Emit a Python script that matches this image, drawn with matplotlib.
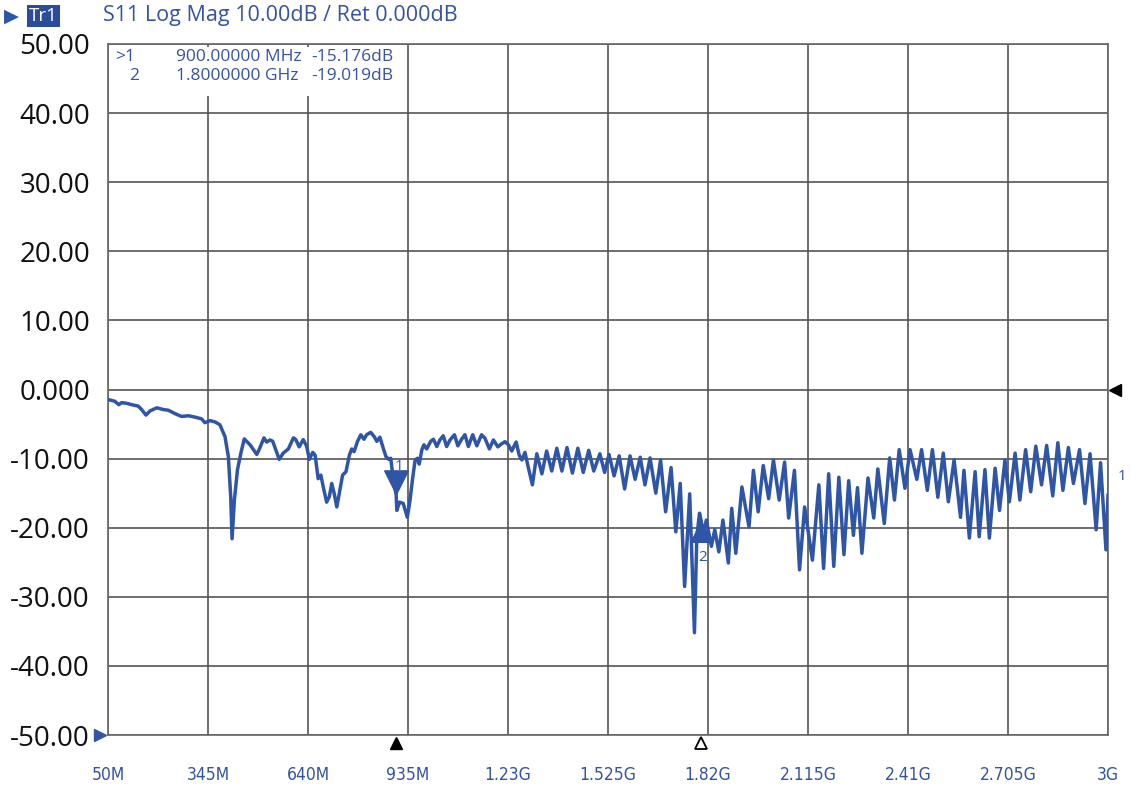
import matplotlib
matplotlib.use("Agg")
import matplotlib.pyplot as plt
from matplotlib.patches import Rectangle

# trace: frequency (MHz) and S11 (dB)
freq_mhz = [
    50, 70, 82, 90, 105, 120, 139, 149, 162, 174, 194, 213, 228, 248, 267, 287,
    307, 326, 336, 351, 366, 380, 395, 405, 412, 416, 423, 432, 442, 452, 469,
    489, 498, 510, 518, 528, 536, 555, 567, 582, 597, 604, 614, 626, 636, 644,
    654, 661, 670, 678, 685, 695, 703, 710, 717, 725, 734, 742, 752, 762, 769,
    776, 786, 796, 805, 813, 825, 835, 843, 852, 862, 870, 878, 884, 892, 900,
    902, 910, 921, 933, 941, 948, 956, 963, 968, 976, 982, 990, 1002, 1010,
    1020, 1029, 1039, 1049, 1059, 1072, 1082, 1093, 1103, 1113, 1126, 1138,
    1152, 1162, 1175, 1187, 1200, 1210, 1221, 1231, 1241, 1254, 1263, 1271,
    1280, 1290, 1302, 1315, 1330, 1344, 1359, 1374, 1389, 1404, 1420, 1436,
    1452, 1468, 1483, 1501, 1515, 1528, 1543, 1558, 1574, 1590, 1605, 1620,
    1634, 1649, 1666, 1680, 1695, 1711, 1725, 1738, 1751, 1766, 1780, 1787,
    1795, 1800, 1805, 1815, 1830, 1840, 1852, 1864, 1880, 1890, 1902, 1920,
    1941, 1954, 1968, 1983, 1999, 2013, 2030, 2046, 2058, 2075, 2090, 2105,
    2128, 2147, 2161, 2176, 2191, 2206, 2221, 2235, 2249, 2261, 2274, 2292,
    2309, 2321, 2340, 2356, 2370, 2384, 2401, 2416, 2436, 2450, 2467, 2482,
    2498, 2514, 2529, 2546, 2565, 2575, 2591, 2608, 2620, 2637, 2650, 2667,
    2680, 2696, 2709, 2726, 2740, 2757, 2772, 2787, 2804, 2819, 2837, 2852,
    2867, 2883, 2898, 2916, 2932, 2947, 2965, 2978, 2994, 3000,
]
s11_db = [
    -1.45, -1.7, -2.2, -1.9, -2.0, -2.2, -2.4, -2.9, -3.7, -3.1, -2.65, -2.9,
    -3.0, -3.5, -3.9, -3.8, -4.0, -4.25, -4.8, -4.5, -4.7, -5.1, -6.8, -9.7,
    -15.5, -21.6, -15.9, -11.6, -9.2, -7.15, -8.0, -9.4, -8.45, -7.0, -7.6,
    -7.3, -7.5, -10.1, -9.2, -8.6, -7.0, -7.25, -8.3, -7.25, -8.2, -10.1, -9.1,
    -9.5, -12.9, -12.4, -14.1, -16.3, -15.5, -13.6, -15.0, -17.0, -14.6, -12.4,
    -11.9, -9.5, -8.6, -9.0, -7.5, -6.55, -7.2, -6.55, -6.2, -6.8, -7.5, -6.9,
    -8.5, -9.7, -10.1, -9.95, -13.1, -15.176, -17.5, -16.3, -16.5, -18.5,
    -16.0, -13.1, -10.2, -9.95, -10.8, -8.7, -8.0, -8.6, -7.5, -7.2, -8.25,
    -7.3, -6.7, -8.25, -7.3, -6.55, -8.15, -7.2, -6.55, -8.25, -6.55, -8.15,
    -6.55, -7.05, -8.6, -7.3, -8.3, -7.9, -7.55, -8.0, -8.9, -7.6, -9.5,
    -10.2, -9.1, -11.3, -13.8, -9.3, -12.2, -8.9, -11.8, -8.5, -11.8, -8.4,
    -12.1, -8.5, -12.0, -8.8, -11.8, -9.3, -12.0, -9.4, -12.5, -9.6, -14.4,
    -9.6, -13.0, -9.8, -13.8, -9.9, -15.0, -10.2, -17.7, -11.3, -20.6, -13.6,
    -28.5, -15.1, -35.2, -21.3, -17.9, -19.019, -21.3, -18.9, -22.7, -20.3,
    -23.5, -18.9, -25.1, -17.2, -23.7, -14.1, -19.9, -11.7, -17.7, -11.0,
    -15.8, -10.2, -16.0, -10.5, -18.6, -11.7, -26.1, -17.0, -24.7, -13.8,
    -25.9, -12.2, -25.6, -12.7, -23.9, -13.2, -21.1, -14.2, -23.7, -12.8,
    -18.6, -11.5, -19.4, -9.9, -16.0, -8.7, -14.3, -8.7, -13.0, -8.7, -14.6,
    -8.7, -15.6, -9.2, -16.25, -10.2, -18.5, -11.7, -21.5, -11.9, -21.3,
    -11.6, -21.5, -11.4, -17.5, -10.2, -16.25, -9.2, -16.0, -8.7, -14.8,
    -8.2, -13.8, -8.1, -15.4, -7.7, -14.6, -8.4, -13.6, -8.7, -16.5, -9.3,
    -20.3, -10.6, -23.2, -15.3,
]

marker_freq = [900, 1800]
marker_db = [-15.176, -19.019]
marker_names = ["1", "2"]
readout_ids = [">1", "2"]
readout_freq = ["900.00000 MHz", "1.8000000 GHz"]
readout_val = ["-15.176dB", "-19.019dB"]

x_ticks = [50, 345, 640, 935, 1230, 1525, 1820, 2115, 2410, 2705, 3000]
x_labels = ["50M", "345M", "640M", "935M", "1.23G", "1.525G", "1.82G",
            "2.115G", "2.41G", "2.705G", "3G"]
y_ticks = [50, 40, 30, 20, 10, 0, -10, -20, -30, -40, -50]
y_labels = ["50.00", "40.00", "30.00", "20.00", "10.00", "0.000", "-10.00",
            "-20.00", "-30.00", "-40.00", "-50.00"]

blue = "#2f55a6"
txt_blue = "#3553a3"
plt.rcParams['font.family'] = ['Open Sans', 'DejaVu Sans']

fig = plt.figure(figsize=(11.31, 7.87), dpi=100)
ax = fig.add_axes([108 / 1131, 1 - 735 / 787, 1000 / 1131, 691 / 787])

ax.plot(freq_mhz, s11_db, color=blue, lw=2.5, zorder=3, solid_joinstyle='round')
ax.set_xlim(50, 3000)
ax.set_ylim(-50, 50)

ax.set_xticks(x_ticks)
ax.set_xticklabels(x_labels, color=txt_blue, fontsize=12.5,
                   family='DejaVu Sans', fontstretch='condensed')
ax.set_yticks(y_ticks)
ax.set_yticklabels(y_labels, fontsize=20, color='#111111')
ax.tick_params(axis='x', length=0, pad=22)
ax.tick_params(axis='y', length=0, pad=13)
ax.grid(True, color='#555555', lw=1.2)
ax.set_axisbelow(True)
for sp in ax.spines.values():
    sp.set_color('#666666')
    sp.set_linewidth(1.2)

# marker readout area (white panel over the grid)
ax.add_patch(Rectangle((0.002, 0.925), 0.29, 0.071, transform=ax.transAxes,
                       facecolor='white', edgecolor='none', zorder=2))
for i in range(2):
    yy = 1 - (57 + 19 * i - 44) / 691
    ax.text(0.007 if i == 0 else 0.021, yy, readout_ids[i], transform=ax.transAxes,
            fontsize=12.5, color=txt_blue, va='center', zorder=4)
    ax.text(0.068, yy, readout_freq[i], transform=ax.transAxes,
            fontsize=12.5, color=txt_blue, va='center', zorder=4)
    ax.text(0.285, yy, readout_val[i], transform=ax.transAxes, ha='right',
            fontsize=12.5, color=txt_blue, va='center', zorder=4)

# markers on the trace
down_tri = [(0, 0), (-0.5, 1), (0.5, 1), (0, 0)]
up_tri = [(0, 0), (-0.5, -1), (0.5, -1), (0, 0)]
ax.plot(marker_freq[0], marker_db[0], marker=down_tri, markersize=34,
        color=blue, zorder=5, clip_on=False)
ax.plot(marker_freq[1], marker_db[1], marker=up_tri, markersize=30,
        color=blue, zorder=5, clip_on=False)
ax.annotate(marker_names[0], (marker_freq[0], marker_db[0]), xytext=(2, 20),
            textcoords='offset points', fontsize=11, color=txt_blue,
            ha='center', va='center', zorder=6)
ax.annotate(marker_names[1], (marker_freq[1], marker_db[1]), xytext=(1, -26),
            textcoords='offset points', fontsize=11, color=txt_blue,
            ha='center', va='center', zorder=6)

# stimulus markers below the grid
xt = ax.get_xaxis_transform()
ax.plot(marker_freq[0], -0.012, marker='^', markersize=9, color='black',
        transform=xt, clip_on=False)
ax.plot(marker_freq[1], -0.012, marker='^', markersize=9, markerfacecolor='white',
        markeredgecolor='black', markeredgewidth=1.3, transform=xt, clip_on=False)

# reference level arrows
yt = ax.get_yaxis_transform()
ax.plot(-0.008, -50, marker='>', markersize=8, color=blue, transform=yt, clip_on=False)
ax.plot(1.007, 0, marker='<', markersize=9, color='black', transform=yt, clip_on=False)
ax.text(1.01, (735 - 476) / 691, "1", transform=ax.transAxes, fontsize=11,
        color=txt_blue, va='center', ha='left')

# header line
fig.text(4 / 1131, 1 - 16 / 787, "\u25b6", fontsize=14, color=blue, va='center',
         family='DejaVu Sans')
fig.text(29 / 1131, 1 - 16 / 787, "Tr1", fontsize=13.5, color='white', va='center',
         bbox=dict(boxstyle='square,pad=0.12', facecolor='#2a4c9c', edgecolor='none'))
fig.text(103 / 1131, 1 - 16 / 787, "S11 Log Mag 10.00dB / Ret 0.000dB", fontsize=15.5,
         color=txt_blue, va='center')

fig.savefig("out.png", dpi=100)
